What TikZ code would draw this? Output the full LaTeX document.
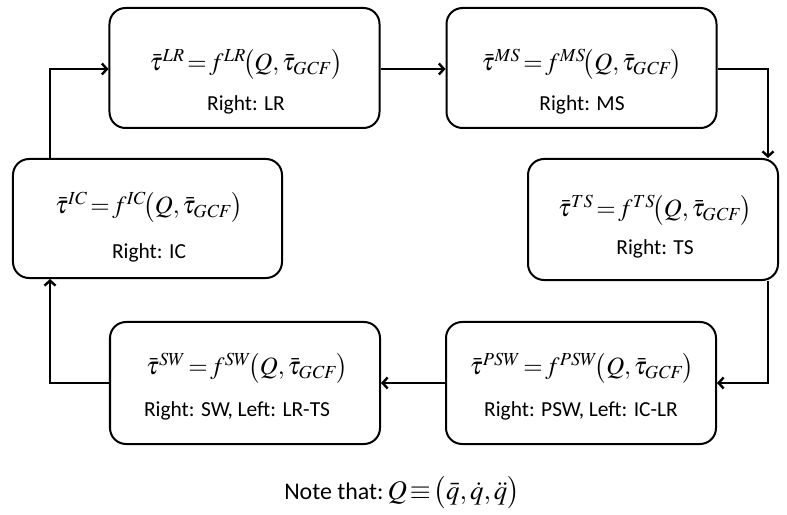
\documentclass[tikz,border=0pt]{standalone}
\usepackage{mathptmx}
\usepackage[no-math]{fontspec}
\setmainfont{Carlito}
\usetikzlibrary{arrows.meta,calc}
\tikzset{
  blk/.style={draw=black, line width=2bp, rounded corners=16bp, minimum width=270bp, minimum height=120bp, inner sep=0pt},
  fml/.style={inner sep=0pt, font=\fontsize{25}{29}\selectfont},
  lbl/.style={inner sep=0pt, font=\fontsize{21.5}{25}\selectfont},
  conn/.style={line width=2.4bp, -{Straight Barb[length=5bp,width=11bp,line width=2.4bp]}},
}
\newcommand{\tauform}[1]{$\bar{\tau}^{#1}\!=\!f^{#1}\!\bigl(Q,\bar{\tau}_{\mathit{GCF}}\bigr)$}
\begin{document}
\begin{tikzpicture}[x=1bp,y=-1bp]
\useasboundingbox (0,0) rectangle (787,515);
% boxes
\node[blk] (lr)  at (244.5,68) {};
\node[blk] (ms)  at (581.5,68) {};
\node[blk, minimum width=269bp, minimum height=119bp] (ic)  at (147.5,218.5) {};
\node[blk, minimum width=250bp, minimum height=121bp] (ts)  at (653,219.5) {};
\node[blk, minimum height=122bp] (sw)  at (245,383) {};
\node[blk, minimum height=122bp] (psw) at (581,383) {};
% contents
\node[fml] (flr) at (246,64) {\tauform{LR}};
\node[lbl] (tlr) at (246,105) {Right: LR};
\node[fml] (fms) at (582,64) {\tauform{MS}};
\node[lbl] (tms) at (582,105) {Right: MS};
\node[fml] (fic) at (149,207) {\tauform{IC}};
\node[lbl] (tic) at (149,253) {Right: IC};
\node[fml] (fts) at (655,210) {\tauform{TS}};
\node[lbl] (tts) at (655,249) {Right: TS};
\node[fml] (fsw) at (247,368) {\tauform{SW}};
\node[lbl] (tsw) at (237,411) {Right: SW, Left: LR-TS};
\node[fml] (fpsw) at (582,368) {\tauform{PSW}};
\node[lbl] (tpsw) at (581,411) {Right: PSW, Left: IC-LR};
% note
\node[inner sep=0pt, anchor=base] (note) at (402,499) {\fontsize{24}{28}\selectfont Note that:\,\fontsize{27}{31}\selectfont$Q\!\equiv\!\bigl(\bar{q},\dot{q},\ddot{q}\bigr)$};
% connectors
\coordinate (c1) at (50,69);
\coordinate (c2) at (768,69);
\coordinate (c3) at (768,383);
\coordinate (c4) at (50,383);
\draw[conn] (ic.north -| c1) -- (c1) -- (lr.west |- c1);
\draw[conn] (lr.east |- c1) -- (ms.west |- c1);
\draw[conn] (ms.east |- c2) -- (c2) -- (c2 |- ts.north);
\draw[conn] (c3 |- ts.south) -- (c3) -- (psw.east);
\draw[conn] (psw.west) -- (sw.east);
\draw[conn] (sw.west) -- (c4) -- (c4 |- ic.south);
\end{tikzpicture}
\end{document}
